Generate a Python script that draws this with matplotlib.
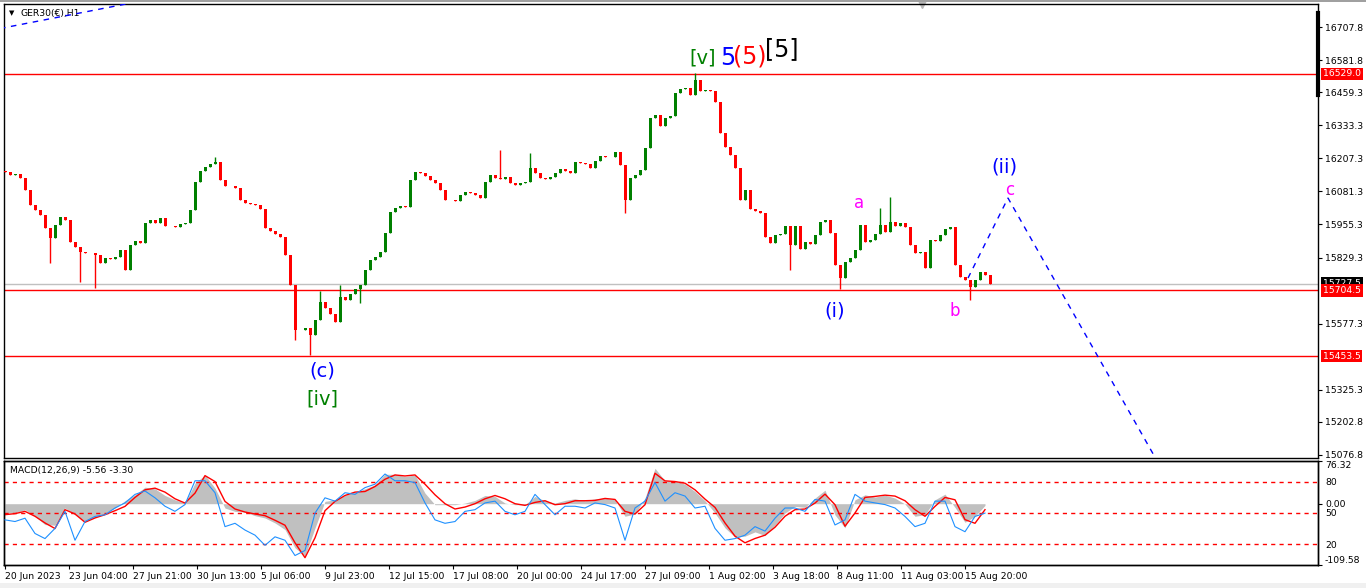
import numpy as np
import matplotlib
matplotlib.use("Agg")
import matplotlib.pyplot as plt
from matplotlib.patches import Rectangle
from matplotlib.transforms import blended_transform_factory

# GER30 H1, closes read every 5 bars
close = [16155, 16144, 16148, 16132, 16087, 16029, 16010, 15991, 15942, 15904,
         15953, 15984, 15972, 15888, 15869, 15850, 15847, 15845, 15839, 15808,
         15828, 15824, 15831, 15858, 15782, 15877, 15892, 15885, 15961, 15972,
         15961, 15980, 15949, 15950, 15946, 15957, 15961, 16010, 16117, 16159,
         16174, 16186, 16193, 16125, 16102, 16100, 16094, 16048, 16037, 16033,
         16029, 16014, 15942, 15930, 15919, 15908, 15839, 15725, 15553, 15555,
         15561, 15534, 15591, 15660, 15637, 15614, 15584, 15679, 15667, 15690,
         15709, 15725, 15782, 15820, 15831, 15850, 15923, 16003, 16018, 16026,
         16022, 16125, 16155, 16151, 16140, 16125, 16113, 16087, 16048, 16050,
         16046, 16068, 16079, 16075, 16068, 16056, 16117, 16144, 16132, 16130,
         16136, 16113, 16106, 16113, 16117, 16170, 16151, 16132, 16129, 16136,
         16151, 16167, 16159, 16151, 16193, 16190, 16186, 16170, 16197, 16216,
         16214, 16212, 16231, 16182, 16048, 16132, 16144, 16163, 16247, 16361,
         16372, 16331, 16361, 16369, 16456, 16472, 16475, 16449, 16506, 16464,
         16468, 16464, 16422, 16304, 16250, 16220, 16170, 16048, 16087, 16014,
         16007, 15999, 15908, 15885, 15915, 15919, 15949, 15877, 15949, 15862,
         15888, 15881, 15915, 15965, 15972, 15923, 15801, 15751, 15812, 15828,
         15858, 15953, 15888, 15896, 15919, 15953, 15927, 15965, 15949, 15961,
         15946, 15877, 15847, 15850, 15789, 15896, 15894, 15915, 15938, 15946,
         15801, 15755, 15744, 15717, 15744, 15774, 15763, 15728]
first_open = 16160
group = 5

# long wicks (candle number, extreme price)
wick_idx = [9, 15, 18, 42, 58, 61, 63, 67, 71, 99, 105, 124, 138, 157, 167, 175, 177, 193]
wick_price = [15808, 15735, 15713, 16212, 15515, 15458, 15700, 15725, 15656, 16239,
              16228, 16000, 16532, 15782, 15709, 16018, 16060, 15667]

price_ticks = [16707.8, 16581.8, 16459.3, 16333.3, 16207.3, 16081.3, 15955.3,
               15829.3, 15577.3, 15325.3, 15202.8, 15076.8]
red_levels = [16529.0, 15704.5, 15453.5]
last_price = 15727.5

date_labels = ["20 Jun 2023", "23 Jun 04:00", "27 Jun 21:00", "30 Jun 13:00",
               "5 Jul 06:00", "9 Jul 23:00", "12 Jul 15:00", "17 Jul 08:00",
               "20 Jul 00:00", "24 Jul 17:00", "27 Jul 09:00", "1 Aug 02:00",
               "3 Aug 18:00", "8 Aug 11:00", "11 Aug 03:00", "15 Aug 20:00"]
date_step = 64

# indicator window, every 10 bars
macd_hist = [-16.6, -16.6, -10.7, -22.5, -37.3, -38.5, -7.8, -19.6, -31.4, -24.3,
             -16.6, -7.8, 5.3, 15.9, 29.5, 26.6, 14.7, 7.0, 1.1, 36.6,
             51.4, 27.8, -7.8, -13.7, -14.9, -21.4, -25.5, -34.4, -46.2, -78.8,
             -93.5, -43.3, 4.1, 7.0, 14.7, 20.7, 26.6, 33.7, 52.6, 52.6,
             48.5, 51.4, 18.9, -1.8, -1.8, -1.8, 1.1, 5.9, 14.7, 13.0,
             1.1, -1.8, -1.8, 13.0, 5.3, 1.1, 5.9, 8.8, 5.3, 8.8,
             10.0, 7.0, -22.5, -18.4, 10.0, 63.3, 40.8, 40.8, 34.9, 21.8,
             5.3, -16.6, -43.2, -59.8, -58.0, -50.4, -56.9, -38.5, -16.6, -4.8,
             -6.6, 10.0, 24.2, -20.0, -43.2, 7.0, 15.9, 11.8, 15.3, 10.0,
             -0.7, -22.5, -19.6, 7.0, 17.1, -6.6, -33.2, -22.5, -3.0]
macd_signal = [-19.6, -17.8, -13.7, -22.5, -34.4, -44.4, -10.7, -18.4, -33.2, -25.5,
               -19.6, -12.5, -4.8, 11.2, 24.8, 27.8, 20.7, 8.8, 1.1, 18.9,
               50.2, 39.6, 4.1, -9.5, -14.9, -18.4, -21.4, -29.6, -38.5, -69.9,
               -96.5, -61.0, -12.5, 4.1, 14.7, 20.7, 21.8, 30.7, 43.7, 51.4,
               49.6, 51.4, 34.9, 15.9, 0.0, -9.5, -6.0, 0.0, 8.8, 14.7,
               8.8, 0.0, -3.0, 2.3, 5.3, -1.8, 0.0, 5.3, 5.3, 5.9,
               9.4, 7.6, -13.7, -18.4, -1.8, 54.4, 40.8, 39.6, 36.6, 24.8,
               8.2, -6.6, -34.4, -58.0, -69.9, -62.2, -56.3, -42.1, -22.5, -10.7,
               -9.5, 1.1, 17.1, -1.8, -40.3, -16.6, 11.2, 13.0, 15.3, 13.6,
               5.3, -10.7, -22.5, -4.8, 11.2, 7.0, -28.5, -35.0, -10.7]
osc = [43.4, 41.8, 45.0, 30.3, 25.4, 35.2, 51.6, 23.8, 41.8, 46.7,
       48.3, 54.8, 59.7, 67.9, 71.2, 64.6, 56.5, 51.6, 58.1, 81.0,
       81.0, 69.5, 36.9, 40.1, 33.6, 28.7, 18.9, 27.1, 23.8, 9.1,
       14.0, 49.9, 64.6, 61.4, 69.5, 67.9, 74.4, 77.7, 87.5, 81.0,
       81.0, 79.3, 59.7, 43.4, 40.1, 41.8, 51.6, 53.2, 59.7, 61.4,
       51.6, 48.3, 51.6, 67.9, 58.1, 48.3, 56.5, 56.5, 54.8, 59.7,
       58.1, 54.8, 23.8, 54.8, 61.4, 79.3, 61.4, 69.5, 66.3, 54.8,
       56.5, 35.2, 23.8, 25.4, 28.7, 36.9, 32.6, 45.0, 54.8, 54.8,
       51.6, 63.0, 61.4, 38.5, 43.4, 67.9, 61.4, 59.7, 58.1, 54.8,
       46.7, 36.9, 40.1, 61.4, 61.4, 36.9, 32.0, 46.7, 49.9]
osc_levels = [80, 50, 20]
macd_step = 10

# drawn wave projection and old trend line
proj_bars = [963, 1003, 1160]
proj_prices = [15751, 16056, 15001]
trend_bars = [-5, 150]
trend_prices = [16702, 16817]

UP = "#008000"
DN = "#ff0000"
FS = 6.7


def main():
    fig = plt.figure(figsize=(13.66, 5.88), dpi=100)
    W, H = 1366.0, 588.0
    ax = fig.add_axes([4 / W, 1 - 458 / H, 1314 / W, 454 / H])
    axm = fig.add_axes([4 / W, 1 - 565 / H, 1314 / W, 104 / H], sharex=ax)

    n = len(close)
    x = np.arange(n) * group
    opens = np.array([first_open] + close[:-1], dtype=float)
    c = np.array(close, dtype=float)
    lo = np.minimum(opens, c)
    hi = np.maximum(opens, c)
    wlo, whi = lo.copy(), hi.copy()
    for i, p in zip(wick_idx, wick_price):
        if p < lo[i]:
            wlo[i] = p
        else:
            whi[i] = p
    cols = [UP if c[i] >= opens[i] else DN for i in range(n)]
    ax.vlines(x, wlo, whi, colors=cols, lw=1, zorder=3)
    ax.bar(x, np.maximum(hi - lo, 1.5), bottom=lo, width=3.0, color=cols, lw=0, zorder=3)

    for lv in red_levels:
        ax.axhline(lv, color="#ff0000", lw=1, zorder=2)
    ax.axhline(last_price, color="#c0c0c0", lw=1, zorder=1)

    ax.plot(proj_bars, proj_prices, color="#0000ff", lw=1, ls=(0, (4, 4)), zorder=4)
    ax.plot(trend_bars, trend_prices, color="#0000ff", lw=1, ls=(0, (4, 4)), zorder=4)

    ax.set_xlim(-1, 1313)
    ax.set_ylim(15065.3, 16795.5)
    ax.yaxis.tick_right()
    ax.set_yticks(price_ticks)
    ax.set_yticklabels(["%.1f" % t for t in price_ticks])
    ax.tick_params(axis="y", direction="out", length=3, pad=2, labelsize=FS)
    ax.tick_params(axis="x", bottom=False, labelbottom=False)

    tr = blended_transform_factory(ax.transAxes, ax.transData)
    ax.text(1.0037, last_price + 4, "15727.5", transform=tr, fontsize=FS, color="white",
            va="center", ha="left", clip_on=False, zorder=5,
            bbox=dict(boxstyle="square,pad=0.2", fc="black", ec="none"))
    for lv in red_levels:
        ax.text(1.0037, lv, "%.1f" % lv, transform=tr, fontsize=FS, color="white",
                va="center", ha="left", clip_on=False, zorder=6,
                bbox=dict(boxstyle="square,pad=0.2", fc="#ff0000", ec="none"))
    ax.plot([1313, 1313], [16449, 16761], color="black", lw=3, clip_on=False, zorder=6)
    ax.plot([917], [16795.5], marker="v", color="#b8b8b8", ms=6, clip_on=False)

    # wave labels
    waves = [("[v]", 698, 16590, "#008000", 14),
             ("5", 723, 16590, "#0000ff", 17),
             ("(5)", 745, 16594, "#ff0000", 17),
             ("[5]", 777, 16624, "black", 17),
             ("(ii)", 999, 16174, "#0000ff", 14),
             ("c", 1005, 16087, "#ff00ff", 12),
             ("a", 854, 16037, "#ff00ff", 12),
             ("b", 950, 15625, "#ff00ff", 12),
             ("(i)", 830, 15625, "#0000ff", 14),
             ("(c)", 317, 15397, "#0000ff", 14),
             ("[iv]", 317, 15290, "#008000", 14)]
    for txt, bx, py, col, fs in waves:
        ax.text(bx, py, txt, color=col, fontsize=fs, ha="center", va="center", zorder=7)

    ax.text(0.0061, 0.980, "\u25bc", transform=ax.transAxes, fontsize=5, va="center", ha="center")
    ax.text(0.0122, 0.980, "GER30(\u20ac),H1", transform=ax.transAxes, fontsize=FS,
            va="center", ha="left")

    # MACD window
    xm = np.arange(len(macd_hist)) * macd_step
    axm.fill_between(xm, 0, macd_hist, color="#c0c0c0", lw=0, zorder=1)
    axm.plot(xm, macd_signal, color="#ff0000", lw=1, zorder=3)
    axm.set_ylim(-109.58, 76.32)

    axo = axm.twinx()
    axo.plot(np.arange(len(osc)) * macd_step, osc, color="#1e90ff", lw=0.8, zorder=4)
    for lv in osc_levels:
        axo.axhline(lv, color="#ff0000", lw=1, ls=(0, (3, 3)), zorder=2)
    axo.set_ylim(0, 100)
    axo.set_yticks(osc_levels)
    axo.set_yticklabels([str(v) for v in osc_levels])
    axo.tick_params(axis="y", length=0, pad=5, labelsize=FS)

    # twinx puts the first axis back on the left
    axm.yaxis.tick_right()
    axm.set_yticks([76.32, 0.0, -109.58])
    axm.set_yticklabels(["76.32", "0.00", "-109.58"])
    axm.tick_params(axis="y", direction="out", length=3, pad=2, labelsize=FS)
    ylab = axm.get_yticklabels()
    ylab[0].set_va("top")
    ylab[2].set_va("bottom")

    axm.set_xticks(np.arange(len(date_labels)) * date_step)
    axm.set_xticklabels(date_labels, ha="left")
    axm.tick_params(axis="x", direction="out", length=3, pad=2, labelsize=FS)
    axm.text(0.0046, 0.913, "MACD(12,26,9) -5.56 -3.30", transform=axm.transAxes,
             fontsize=FS, va="center", ha="left")

    for a in (ax, axm, axo):
        for s in a.spines.values():
            s.set_linewidth(1)
            s.set_color("black")

    fig.add_artist(Rectangle((0, 0), 1, 5 / H, transform=fig.transFigure,
                             fc="#f0f0f0", ec="none"))
    fig.add_artist(Rectangle((0, 1 - 2 / H), 1, 2 / H, transform=fig.transFigure,
                             fc="#a0a0a0", ec="none"))

    fig.savefig("out.png", dpi=100)


if __name__ == "__main__":
    main()
